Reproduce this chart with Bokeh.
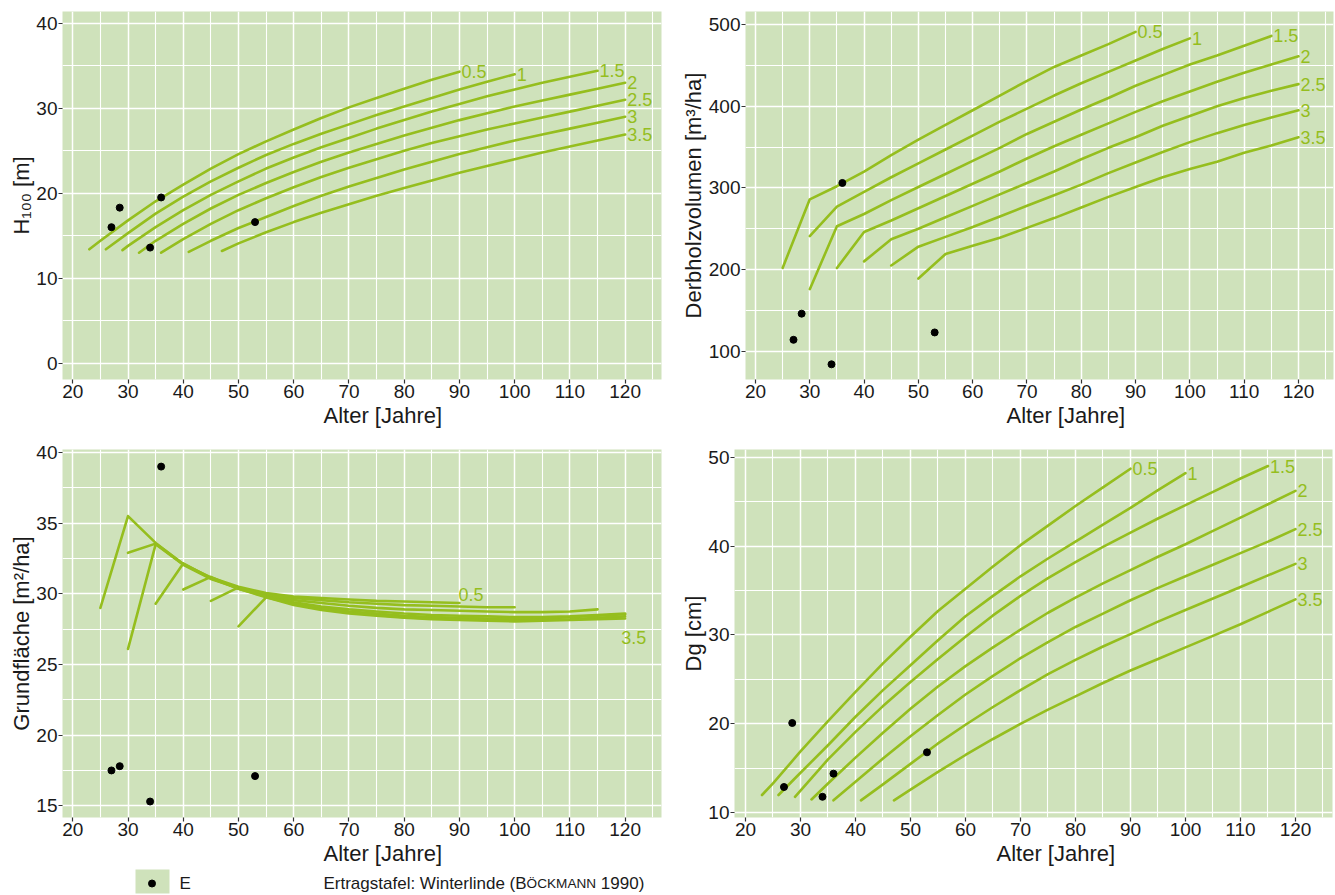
from bokeh.plotting import figure
from bokeh.models import Range1d, FixedTicker, Label, Title
from bokeh.layouts import column, row
from bokeh.embed import file_html
from bokeh.resources import INLINE
from bokeh.core.properties import value

FONT = "Liberation Sans"
BG = "#cfe2bb"
LINE = "#95be1e"
INK = "#1a1a1a"

CLASSES = ["0.5", "1", "1.5", "2", "2.5", "3", "3.5"]
X_TICKS = [20, 30, 40, 50, 60, 70, 80, 90, 100, 110, 120]
X_MINOR = [25, 35, 45, 55, 65, 75, 85, 95, 105, 115, 125]

# ---------------- observations (E) ----------------
dot_age = [27.0, 28.5, 34.0, 36.0, 53.0]
dot_h100 = [16.0, 18.3, 13.6, 19.5, 16.6]
dot_vol = [114, 146, 84, 306, 123]
dot_g = [17.5, 17.8, 15.3, 39.0, 17.1]
dot_dg = [12.9, 20.1, 11.8, 14.4, 16.8]

# ---------------- H100 [m] ----------------
h_age_05 = [23, 25, 30, 35, 40, 45, 50, 55, 60, 65, 70, 75, 80, 85, 90]
h_05 = [13.4, 14.4, 16.8, 19.05, 21.0, 22.9, 24.6, 26.1, 27.5, 28.85, 30.1, 31.2, 32.3, 33.35, 34.3]
h_age_1 = [26, 30, 35, 40, 45, 50, 55, 60, 65, 70, 75, 80, 85, 90, 95, 100]
h_1 = [13.4, 15.3, 17.6, 19.6, 21.4, 23.0, 24.5, 25.8, 27.0, 28.1, 29.2, 30.2, 31.2, 32.2, 33.1, 34.0]
h_age_15 = [29, 30, 35, 40, 45, 50, 55, 60, 65, 70, 75, 80, 85, 90, 95, 100, 105, 110, 115]
h_15 = [13.3, 13.8, 16.0, 18.0, 19.8, 21.4, 22.9, 24.2, 25.4, 26.5, 27.6, 28.6, 29.6, 30.5, 31.4, 32.2, 33.0, 33.7, 34.4]
h_age_2 = [32, 35, 40, 45, 50, 55, 60, 65, 70, 75, 80, 85, 90, 95, 100, 105, 110, 115, 120]
h_2 = [13.0, 14.4, 16.4, 18.2, 19.8, 21.2, 22.5, 23.7, 24.8, 25.8, 26.8, 27.7, 28.6, 29.4, 30.2, 30.9, 31.6, 32.3, 33.0]
h_age_25 = [36, 40, 45, 50, 55, 60, 65, 70, 75, 80, 85, 90, 95, 100, 105, 110, 115, 120]
h_25 = [13.0, 14.6, 16.4, 18.0, 19.4, 20.7, 21.9, 23.0, 24.0, 25.0, 25.9, 26.7, 27.5, 28.2, 28.9, 29.6, 30.3, 31.0]
h_age_3 = [41, 45, 50, 55, 60, 65, 70, 75, 80, 85, 90, 95, 100, 105, 110, 115, 120]
h_3 = [13.1, 14.4, 15.9, 17.2, 18.5, 19.7, 20.8, 21.8, 22.8, 23.7, 24.6, 25.4, 26.2, 26.9, 27.6, 28.3, 29.0]
h_age_35 = [47, 50, 55, 60, 65, 70, 75, 80, 85, 90, 95, 100, 105, 110, 115, 120]
h_35 = [13.2, 14.1, 15.4, 16.6, 17.7, 18.7, 19.7, 20.6, 21.5, 22.4, 23.2, 24.0, 24.8, 25.5, 26.2, 26.9]

# ---------------- Derbholzvolumen [m3/ha] ----------------
v_age_05 = [25, 30, 35, 40, 45, 50, 55, 60, 65, 70, 75, 80, 85, 90]
v_05 = [202, 286, 302, 320, 340, 359, 377, 395, 413, 431, 448, 462, 476, 491]
v_age_1 = [30, 35, 40, 45, 50, 55, 60, 65, 70, 75, 80, 85, 90, 95, 100]
v_1 = [241, 277, 295, 313, 330, 347, 364, 381, 397, 413, 428, 442, 456, 470, 483]
v_age_15 = [30, 35, 40, 45, 50, 55, 60, 65, 70, 75, 80, 85, 90, 95, 100, 105, 110, 115]
v_15 = [176, 253, 268, 285, 301, 317, 333, 349, 366, 381, 396, 410, 425, 438, 451, 462, 474, 486]
v_age_2 = [35, 40, 45, 50, 55, 60, 65, 70, 75, 80, 85, 90, 95, 100, 105, 110, 115, 120]
v_2 = [202, 246, 260, 275, 290, 305, 320, 336, 351, 365, 379, 393, 406, 418, 430, 441, 451, 461]
v_age_25 = [40, 45, 50, 55, 60, 65, 70, 75, 80, 85, 90, 95, 100, 105, 110, 115, 120]
v_25 = [210, 237, 250, 264, 278, 292, 306, 320, 335, 349, 362, 376, 388, 400, 410, 419, 427]
v_age_3 = [45, 50, 55, 60, 65, 70, 75, 80, 85, 90, 95, 100, 105, 110, 115, 120]
v_3 = [205, 228, 240, 252, 265, 278, 291, 304, 318, 331, 344, 356, 367, 377, 386, 395]
v_age_35 = [50, 55, 60, 65, 70, 75, 80, 85, 90, 95, 100, 105, 110, 115, 120]
v_35 = [189, 219, 229, 239, 251, 263, 276, 289, 301, 313, 323, 332, 343, 352, 362]

# ---------------- Grundflaeche [m2/ha] ----------------
g_age_05 = [25, 30, 35, 40, 45, 50, 55, 60, 65, 70, 75, 80, 85, 90]
g_05 = [29.0, 35.5, 33.6, 32.1, 31.15, 30.5, 30.05, 29.8, 29.7, 29.6, 29.5, 29.45, 29.4, 29.35]
g_age_1 = [30, 35, 40, 45, 50, 55, 60, 65, 70, 75, 80, 85, 90, 95, 100]
g_1 = [32.9, 33.55, 32.1, 31.1, 30.45, 29.95, 29.7, 29.55, 29.4, 29.3, 29.2, 29.15, 29.1, 29.05, 29.05]
g_age_15 = [30, 35, 40, 45, 50, 55, 60, 65, 70, 75, 80, 85, 90, 95, 100, 105, 110, 115]
g_15 = [26.1, 33.5, 32.05, 31.05, 30.4, 29.9, 29.55, 29.35, 29.15, 29.0, 28.9, 28.85, 28.8, 28.75, 28.7, 28.7, 28.75, 28.9]
g_age_2 = [35, 40, 45, 50, 55, 60, 65, 70, 75, 80, 85, 90, 95, 100, 105, 110, 115, 120]
g_2 = [29.3, 32.15, 31.1, 30.35, 29.8, 29.4, 29.1, 28.9, 28.75, 28.6, 28.5, 28.45, 28.4, 28.35, 28.35, 28.4, 28.5, 28.6]
g_age_25 = [40, 45, 50, 55, 60, 65, 70, 75, 80, 85, 90, 95, 100, 105, 110, 115, 120]
g_25 = [30.3, 31.2, 30.35, 29.75, 29.3, 29.0, 28.75, 28.6, 28.45, 28.35, 28.3, 28.25, 28.2, 28.25, 28.35, 28.45, 28.55]
g_age_3 = [45, 50, 55, 60, 65, 70, 75, 80, 85, 90, 95, 100, 105, 110, 115, 120]
g_3 = [29.5, 30.45, 29.8, 29.3, 28.95, 28.7, 28.5, 28.35, 28.25, 28.2, 28.15, 28.1, 28.15, 28.2, 28.3, 28.4]
g_age_35 = [50, 55, 60, 65, 70, 75, 80, 85, 90, 95, 100, 105, 110, 115, 120]
g_35 = [27.7, 29.75, 29.2, 28.85, 28.6, 28.45, 28.3, 28.2, 28.15, 28.1, 28.05, 28.1, 28.15, 28.2, 28.25]

# ---------------- Dg [cm] ----------------
d_age_05 = [23, 25, 30, 35, 40, 45, 50, 55, 60, 65, 70, 75, 80, 85, 90]
d_05 = [12.0, 13.3, 16.9, 20.3, 23.6, 26.8, 29.8, 32.7, 35.2, 37.7, 40.1, 42.3, 44.5, 46.6, 48.7]
d_age_1 = [26, 30, 35, 40, 45, 50, 55, 60, 65, 70, 75, 80, 85, 90, 95, 100]
d_1 = [12.0, 14.5, 17.6, 20.8, 23.8, 26.6, 29.4, 32.1, 34.4, 36.6, 38.6, 40.5, 42.4, 44.3, 46.3, 48.2]
d_age_15 = [29, 30, 35, 40, 45, 50, 55, 60, 65, 70, 75, 80, 85, 90, 95, 100, 105, 110, 115]
d_15 = [11.8, 12.5, 16.0, 19.1, 22.0, 24.7, 27.3, 29.8, 32.2, 34.4, 36.4, 38.2, 39.9, 41.5, 43.1, 44.6, 46.1, 47.6, 49.0]
d_age_2 = [32, 35, 40, 45, 50, 55, 60, 65, 70, 75, 80, 85, 90, 95, 100, 105, 110, 115, 120]
d_2 = [11.5, 13.3, 16.2, 19.0, 21.7, 24.2, 26.5, 28.6, 30.6, 32.5, 34.2, 35.8, 37.3, 38.8, 40.2, 41.7, 43.2, 44.7, 46.2]
d_age_25 = [36, 40, 45, 50, 55, 60, 65, 70, 75, 80, 85, 90, 95, 100, 105, 110, 115, 120]
d_25 = [11.4, 13.5, 16.1, 18.6, 21.0, 23.3, 25.4, 27.4, 29.2, 30.9, 32.4, 33.9, 35.3, 36.6, 37.9, 39.2, 40.5, 41.9]
d_age_3 = [41, 45, 50, 55, 60, 65, 70, 75, 80, 85, 90, 95, 100, 105, 110, 115, 120]
d_3 = [11.4, 13.2, 15.5, 17.8, 19.9, 21.9, 23.8, 25.6, 27.2, 28.7, 30.1, 31.5, 32.8, 34.1, 35.4, 36.7, 38.0]
d_age_35 = [47, 50, 55, 60, 65, 70, 75, 80, 85, 90, 95, 100, 105, 110, 115, 120]
d_35 = [11.4, 12.6, 14.6, 16.5, 18.3, 20.0, 21.6, 23.1, 24.6, 26.0, 27.3, 28.6, 29.9, 31.2, 32.6, 34.0]


# ---------------- helpers ----------------
def make_panel(geo, yticks, yminor):
    p = figure(x_range=Range1d(geo["x0"], geo["x1"]), y_range=Range1d(geo["y0"], geo["y1"]),
               frame_width=geo["fw"], frame_height=geo["fh"],
               min_border_left=geo["bl"], min_border_right=geo["br"],
               min_border_top=geo["bt"], min_border_bottom=geo["bb"],
               toolbar_location=None, output_backend="svg",
               background_fill_color=BG, border_fill_color="white", outline_line_color=None)
    p.xaxis.ticker = FixedTicker(ticks=X_TICKS, minor_ticks=X_MINOR)
    p.yaxis.ticker = FixedTicker(ticks=yticks, minor_ticks=yminor)
    for ax in (p.xaxis[0], p.yaxis[0]):
        ax.axis_line_color = None
        ax.major_tick_line_color = "#333333"
        ax.major_tick_line_width = 1.2
        ax.major_tick_out = 4
        ax.major_tick_in = 0
        ax.minor_tick_out = 0
        ax.minor_tick_in = 0
        ax.major_label_text_font = FONT
        ax.major_label_text_font_size = "19px"
        ax.major_label_text_color = INK
        ax.major_label_standoff = 1
    for g in (p.xgrid[0], p.ygrid[0]):
        g.grid_line_color = "white"
        g.grid_line_width = 1.5
        g.minor_grid_line_color = "white"
        g.minor_grid_line_width = 1.1
    return p


def add_title(p, text, side, align, offset, size=22):
    t = Title(text=text, align=align, offset=offset, text_font=FONT,
              text_font_size=f"{size}px", text_font_style="normal", text_color=INK)
    if "standoff" in t.properties():
        t.standoff = 0
    p.add_layout(t, side)


def lab(p, x, y, text, size, align="center", baseline="middle"):
    p.add_layout(Label(x=x, y=y, text=text, text_font=FONT, text_font_size=f"{size}px",
                       text_color=INK, text_align=align, text_baseline=baseline))


def curves(p, ages, vals, end_labels=True):
    for a, v in zip(ages, vals):
        p.line(x=a, y=v, line_color=LINE, line_width=2.6, line_join="round", line_cap="round")
    if end_labels:
        p.text(x=[a[-1] for a in ages], y=[v[-1] for v in vals], text=CLASSES,
               x_offset=2, text_align="left", text_baseline="middle",
               text_font=value(FONT), text_font_size="18px", text_color=LINE)


def dots(p, x, y):
    p.scatter(x=x, y=y, size=7, fill_color="black", line_color="black")


# ---------------- geometry (page pixels) ----------------
G_TL = dict(fw=599, fh=368, bl=62, br=4, bt=11, bb=62,
            x0=18.14, x1=126.58, y0=-1.92, y1=41.38)
G_TR = dict(fw=588, fh=368, bl=80, br=1, bt=11, bb=62,
            x0=18.16, x1=126.45, y0=65.4, y1=515.9)
G_BL = dict(fw=599, fh=368, bl=62, br=4, bt=8, bb=52,
            x0=18.14, x1=126.58, y0=14.17, y1=40.21)
G_BR = dict(fw=598, fh=368, bl=69, br=1, bt=8, bb=52,
            x0=18.0, x1=126.73, y0=9.47, y1=50.86)
XT_OFF = 261

# ---------------- H100 ----------------
p1 = make_panel(G_TL, [0, 10, 20, 30, 40], [5, 15, 25, 35])
curves(p1, [h_age_05, h_age_1, h_age_15, h_age_2, h_age_25, h_age_3, h_age_35],
       [h_05, h_1, h_15, h_2, h_25, h_3, h_35])
dots(p1, dot_age, dot_h100)
add_title(p1, "Alter [Jahre]", "below", "left", XT_OFF)
add_title(p1, "H\u2081\u2080\u2080 [m]", "left", "center", 8)

# ---------------- Derbholzvolumen ----------------
p2 = make_panel(G_TR, [100, 200, 300, 400, 500], [150, 250, 350, 450])
curves(p2, [v_age_05, v_age_1, v_age_15, v_age_2, v_age_25, v_age_3, v_age_35],
       [v_05, v_1, v_15, v_2, v_25, v_3, v_35])
dots(p2, dot_age, dot_vol)
add_title(p2, "Alter [Jahre]", "below", "left", XT_OFF)
add_title(p2, "Derbholzvolumen [m³/ha]", "left", "center", -4)

# ---------------- Grundflaeche ----------------
p3 = make_panel(G_BL, [15, 20, 25, 30, 35, 40], [17.5, 22.5, 27.5, 32.5, 37.5])
curves(p3, [g_age_05, g_age_1, g_age_15, g_age_2, g_age_25, g_age_3, g_age_35],
       [g_05, g_1, g_15, g_2, g_25, g_3, g_35], end_labels=False)
ppu_bl = G_BL["fh"] / (G_BL["y1"] - G_BL["y0"])
p3.text(x=[g_age_05[-1]], y=[g_05[-1] + 8.5 / ppu_bl], text=[CLASSES[0]], x_offset=-1,
        text_align="left", text_baseline="alphabetic",
        text_font=value(FONT), text_font_size="18px", text_color=LINE)
p3.text(x=[g_age_35[-1]], y=[g_35[-1] - 19 / ppu_bl], text=[CLASSES[-1]], x_offset=-4,
        text_align="left", text_baseline="alphabetic",
        text_font=value(FONT), text_font_size="18px", text_color=LINE)
dots(p3, dot_age, dot_g)
add_title(p3, "Alter [Jahre]", "below", "left", XT_OFF)
add_title(p3, "Grundfläche [m²/ha]", "left", "center", 1)

# ---------------- Dg ----------------
p4 = make_panel(G_BR, [10, 20, 30, 40, 50], [15, 25, 35, 45])
curves(p4, [d_age_05, d_age_1, d_age_15, d_age_2, d_age_25, d_age_3, d_age_35],
       [d_05, d_1, d_15, d_2, d_25, d_3, d_35])
dots(p4, dot_age, dot_dg)
add_title(p4, "Alter [Jahre]", "below", "left", XT_OFF + 1)
add_title(p4, "Dg [cm]", "left", "center", 3)

# ---------------- legend / caption row ----------------
W5 = 1333
p5 = figure(x_range=Range1d(0, W5), y_range=Range1d(0, 25), width=W5, height=25,
            min_border_left=0, min_border_right=0, min_border_top=0, min_border_bottom=0,
            toolbar_location=None, output_backend="svg", x_axis_type=None, y_axis_type=None,
            outline_line_color=None, background_fill_color="white", border_fill_color="white")
p5.quad(left=[135], right=[169], bottom=[1], top=[26], fill_color=BG, line_color=None)
p5.scatter(x=[151.5], y=[11], size=7, fill_color="black", line_color="black")
lab(p5, 179, 11, "E", 17, align="left")
cap_anchor = 323 + 11.948 * 17
lab(p5, cap_anchor, 11, "Ertragstafel: Winterlinde (B", 17, align="right")
lab(p5, cap_anchor, 11, "ÖCKMANN", 13.6, align="left")
lab(p5, cap_anchor + 5.111 * 13.6 + 0.278 * 17, 11, "1990)", 17, align="left")

layout = column(row(p1, p2), row(p3, p4), p5)
open("out.html", "w").write(file_html(layout, INLINE))
